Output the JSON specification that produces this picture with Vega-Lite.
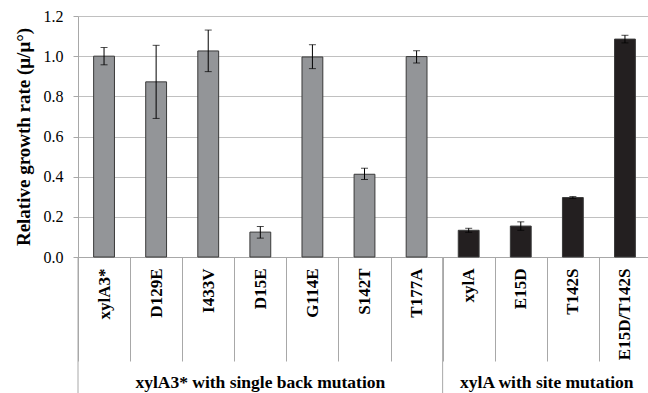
{
  "$schema": "https://vega.github.io/schema/vega-lite/v6.json",
  "width": 573,
  "height": 241,
  "autosize": "none",
  "padding": {"left": 78, "top": 16, "right": 0, "bottom": 136},
  "background": "white",
  "config": {
    "view": {"stroke": null},
    "font": "Liberation Serif",
    "axis": {"labelFont": "Liberation Serif", "titleFont": "Liberation Serif"},
    "axisY": {"labelFont": "Liberation Serif", "labelFontSize": 16, "labelColor": "black"}
  },
  "data": {
    "values": [
      {"mutant": "xylA3*", "group": "xylA3* with single back mutation", "value": 1.0, "lo": 0.957, "hi": 1.043},
      {"mutant": "D129E", "group": "xylA3* with single back mutation", "value": 0.872, "lo": 0.69, "hi": 1.054},
      {"mutant": "I433V", "group": "xylA3* with single back mutation", "value": 1.026, "lo": 0.923, "hi": 1.13},
      {"mutant": "D15E", "group": "xylA3* with single back mutation", "value": 0.124, "lo": 0.094, "hi": 0.152},
      {"mutant": "G114E", "group": "xylA3* with single back mutation", "value": 0.996, "lo": 0.938, "hi": 1.057},
      {"mutant": "S142T", "group": "xylA3* with single back mutation", "value": 0.412, "lo": 0.386, "hi": 0.442},
      {"mutant": "T177A", "group": "xylA3* with single back mutation", "value": 0.998, "lo": 0.966, "hi": 1.027},
      {"mutant": "xylA", "group": "xylA with site mutation", "value": 0.133, "lo": 0.123, "hi": 0.143},
      {"mutant": "E15D", "group": "xylA with site mutation", "value": 0.154, "lo": 0.133, "hi": 0.175},
      {"mutant": "T142S", "group": "xylA with site mutation", "value": 0.296, "lo": 0.291, "hi": 0.301},
      {"mutant": "E15D/T142S", "group": "xylA with site mutation", "value": 1.085, "lo": 1.066, "hi": 1.104}
    ]
  },
  "encoding": {
    "x": {
      "field": "mutant",
      "type": "nominal",
      "sort": null,
      "scale": {"paddingInner": 0, "paddingOuter": 0},
      "axis": {
        "title": null,
        "labelAngle": -90,
        "labelFont": "Liberation Serif",
        "labelFontWeight": "bold",
        "labelFontSize": 17,
        "labelColor": "black",
        "tickBand": "extent",
        "tickColor": "#a8a8a8",
        "domainColor": "#a8a8a8",
        "tickSize": 104,
        "labelPadding": -93
      }
    }
  },
  "layer": [
    {
      "mark": {"type": "bar", "stroke": "#3a3a3a", "strokeWidth": 1, "width": {"band": 0.4}},
      "encoding": {
        "y": {
          "field": "value",
          "type": "quantitative",
          "title": "Relative growth rate (μ/μ°)",
          "scale": {"domain": [0, 1.2], "nice": false},
          "axis": {
            "titleFont": "Liberation Serif",
            "titleFontSize": 19,
            "titleFontWeight": "bold",
            "titleColor": "black",
            "titlePadding": 10,
            "values": [0, 0.2, 0.4, 0.6, 0.8, 1.0, 1.2],
            "format": ".1f",
            "labelFont": "Liberation Serif",
            "labelFontSize": 16,
            "labelColor": "black",
            "labelPadding": 10,
            "tickSize": 5,
            "tickColor": "#a8a8a8",
            "domainColor": "#a8a8a8",
            "gridColor": "#c0c0c0",
            "grid": true
          }
        },
        "color": {
          "field": "group",
          "type": "nominal",
          "sort": null,
          "scale": {"range": ["#939598", "#231f20"]},
          "legend": null
        }
      }
    },
    {
      "mark": {"type": "errorbar", "ticks": {"size": 7, "color": "black"}, "rule": {"color": "black"}},
      "encoding": {
        "y": {"field": "lo", "type": "quantitative", "title": "Relative growth rate (μ/μ°)", "axis": {"labelFont": "Liberation Serif", "format": ".1f"}},
        "y2": {"field": "hi"}
      }
    },
    {
      "data": {"values": [{"mutant": "xylA3*"}, {"mutant": "xylA"}]},
      "mark": {"type": "rule", "color": "#a8a8a8", "strokeWidth": 1},
      "encoding": {
        "x": {"field": "mutant", "type": "nominal", "sort": null, "bandPosition": 0},
        "y": {"datum": 0},
        "y2": {"datum": -0.7}
      }
    },
    {
      "data": {"values": [{"group": "xylA3* with single back mutation", "mutant": "D15E"}]},
      "mark": {"type": "text", "font": "Liberation Serif", "fontWeight": "bold", "fontSize": 17.5, "color": "black", "baseline": "middle", "align": "center"},
      "encoding": {
        "x": {"field": "mutant", "type": "nominal", "sort": null, "bandPosition": 0.5},
        "y": {"datum": -0.627},
        "text": {"field": "group"}
      }
    },
    {
      "data": {"values": [{"group": "xylA with site mutation", "mutant": "T142S"}]},
      "mark": {"type": "text", "font": "Liberation Serif", "fontWeight": "bold", "fontSize": 17.5, "color": "black", "baseline": "middle", "align": "center"},
      "encoding": {
        "x": {"field": "mutant", "type": "nominal", "sort": null, "bandPosition": 0},
        "y": {"datum": -0.627},
        "text": {"field": "group"}
      }
    }
  ]
}
